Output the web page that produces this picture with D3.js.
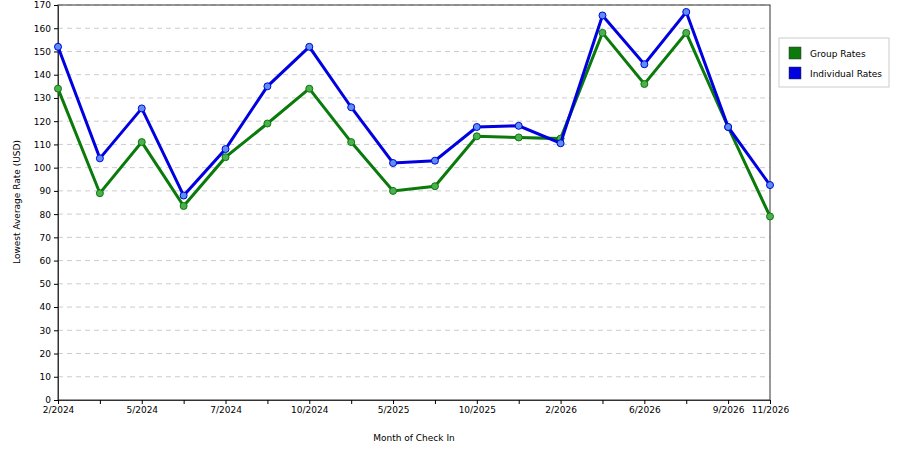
<!DOCTYPE html><html><head><script src="https://cdn.jsdelivr.net/npm/d3@7"></script>
<style>body{margin:0;background:#fff}text{font-family:"DejaVu Sans",sans-serif}</style></head><body>
<svg id="c" width="900" height="450"></svg>
<script>
const labels=["2/2024","","5/2024","","7/2024","","10/2024","","5/2025","","10/2025","","2/2026","","6/2026","","9/2026","11/2026"];
const groupRates=[134,89,111,83.5,104.5,119,134,111,90,92,113.5,113,112.5,158,136,158,117.5,79];
const indivRates=[152,104,125.5,88,108,135,152,126,102,103,117.5,118,110.5,165.5,144.5,167,117.5,92.5];
const yTicks=d3.range(0,171,10);
const svg=d3.select("#c");
const L=58,R=770,T=5,B=400;
const x=d3.scaleLinear().domain([0,17]).range([L,R]);
const y=d3.scaleLinear().domain([0,170]).range([B,T]);
yTicks.forEach(t=>{if(t>0)svg.append("line").attr("x1",L).attr("x2",R).attr("y1",y(t)).attr("y2",y(t)).attr("stroke","#ccc").attr("stroke-dasharray","5,4");});
svg.append("rect").attr("x",L).attr("y",T).attr("width",R-L).attr("height",B-T).attr("fill","none").attr("stroke","#333");
const ya=svg.append("g").attr("transform",`translate(${L},0)`).call(d3.axisLeft(y).tickValues(yTicks).tickSize(4).tickSizeOuter(0));
const xa=svg.append("g").attr("transform",`translate(0,${B})`).call(d3.axisBottom(x).tickValues(d3.range(18)).tickFormat(i=>labels[i]).tickSize(4).tickSizeOuter(0));
[ya,xa].forEach(a=>{a.selectAll("text").attr("font-size",9).attr("fill","#000");a.select(".domain").attr("stroke","#333")});
svg.append("text").attr("x",414).attr("y",441).attr("text-anchor","middle").attr("font-size",9).text("Month of Check In");
svg.append("text").attr("transform","translate(20,202) rotate(-90)").attr("text-anchor","middle").attr("font-size",9).text("Lowest Average Rate (USD)");
const line=d3.line().x((d,i)=>x(i)).y(d=>y(d));
[[groupRates,"#0a7a0a","#4caf50"],[indivRates,"#0000e0","#5b8ff0"]].forEach(([d,c,p])=>{
svg.append("path").datum(d).attr("d",line).attr("fill","none").attr("stroke",c).attr("stroke-width",3);
svg.selectAll(null).data(d).enter().append("circle").attr("cx",(v,i)=>x(i)).attr("cy",v=>y(v)).attr("r",3.5).attr("fill",p).attr("stroke",c).attr("stroke-width",1);});
const lg=svg.append("g");
lg.append("rect").attr("x",779).attr("y",38).attr("width",110).attr("height",49).attr("fill","#fff").attr("stroke","#ccc");
[["Group Rates","#0a7a0a"],["Individual Rates","#0000e0"]].forEach(([t,c],i)=>{
lg.append("rect").attr("x",789).attr("y",47+i*20).attr("width",12).attr("height",12).attr("fill",c).attr("stroke","#333").attr("stroke-width",0.5);
lg.append("text").attr("x",810).attr("y",57+i*20).attr("font-size",9).text(t);});
</script></body></html>
